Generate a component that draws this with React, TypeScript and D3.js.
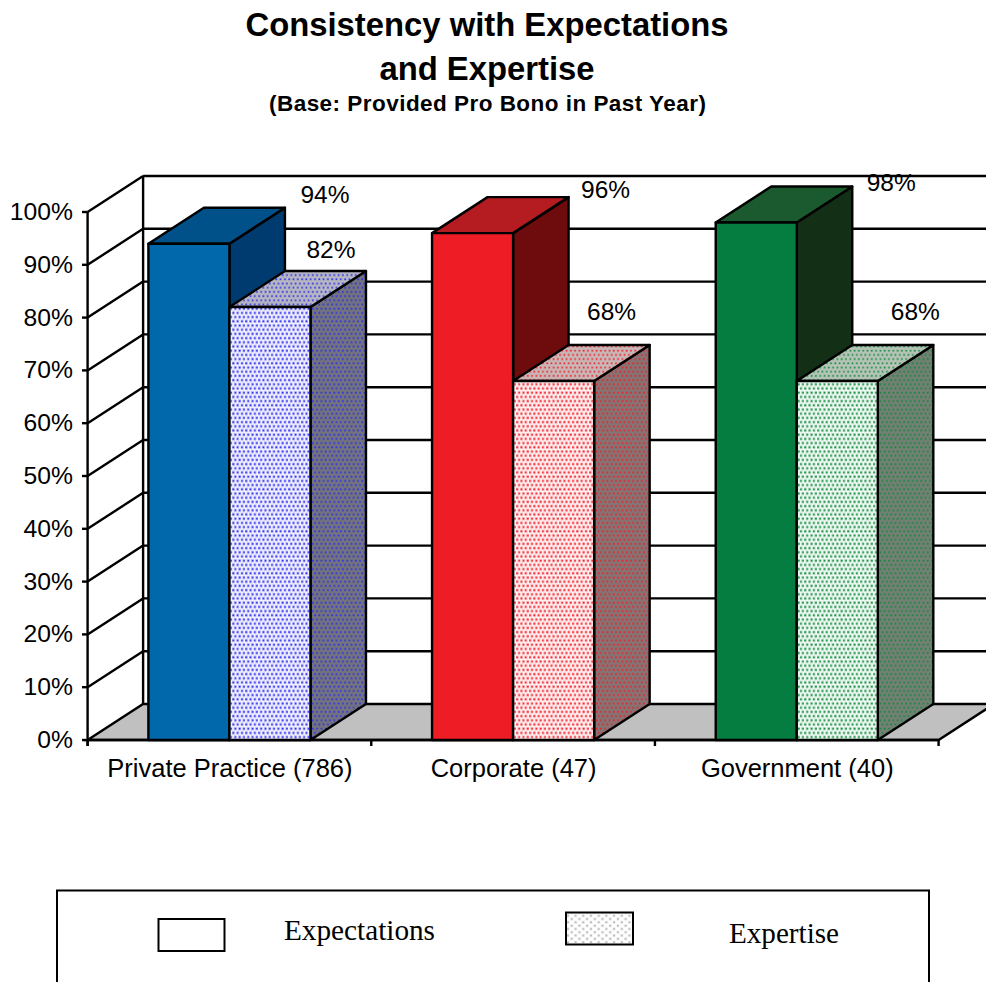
import React from "react";
import * as d3 from "d3";

const categories = ["Private Practice (786)", "Corporate (47)", "Government (40)"];
const seriesNames = ["Expectations", "Expertise"];
const expectations = [94, 96, 98];
const expertise = [82, 68, 68];
const yTicks = [0, 10, 20, 30, 40, 50, 60, 70, 80, 90, 100];

// colours per category: front, top, side, dot
const fronts = ["#0068ab", "#ee1c25", "#067d40"];
const tops = ["#00508a", "#b51c22", "#1b5a2e"];
const sides = ["#003b70", "#6e0b0d", "#132f16"];
const dots = ["#2a2aee", "#f01c28", "#0a8a3c"];
const frontBg = ["#f2f2ff", "#fff2f2", "#f2faf4"];
const dotTopBg = ["#b8b8c0", "#c8b8b8", "#b8c4b8"];
const dotSideBg = ["#74747c", "#847474", "#748074"];

// hand placed data labels in the original, offsets from bar centre / top
const labelDx = [[136, 133, 135], [61, 58, 78]];
const labelDy = [[-41, -35, -32], [-49, -61, -61]];

const W = 986;
const H = 982;
const depthX = 55.5;
const depthY = -36;

const x0 = d3.scaleBand<string>().domain(categories).range([87.6, 938.6]);
const x1 = d3
  .scaleBand<string>()
  .domain(seriesNames)
  .range([0, x0.bandwidth()])
  .paddingInner(0)
  .paddingOuter(0.75);
const y = d3.scaleLinear().domain([0, 100]).range([740, 212]);

const pts = (p: number[][]) => p.map((d) => d.join(",")).join(" ");

const Pattern = ({ id, bg, dot, w = 4.3, h = 8.4, size = 1.6, halo = 0.3 }: { id: string; bg: string; dot: string; w?: number; h?: number; size?: number; halo?: number }) => (
  <pattern id={id} width={w} height={h} patternUnits="userSpaceOnUse">
    <rect width={w} height={h} fill={bg} />
    {[[w * 0.25, h * 0.25], [w * 0.75, h * 0.75]].map(([cx, cy], i) => (
      <g key={i} fill={dot}>
        <rect x={cx - size} y={cy - size} width={size * 2} height={size * 2} opacity={halo} />
        <rect x={cx - size / 2} y={cy - size / 2} width={size} height={size} />
      </g>
    ))}
  </pattern>
);

const Bar = ({ cat, ci, si, value }: { cat: string; ci: number; si: number; value: number }) => {
  const xl = x0(cat)! + x1(seriesNames[si])!;
  const xr = xl + x1.bandwidth();
  const yt = y(value);
  const yb = y(0);
  const front = si === 0 ? fronts[ci] : `url(#front${ci})`;
  const top = si === 0 ? tops[ci] : `url(#top${ci})`;
  const side = si === 0 ? sides[ci] : `url(#side${ci})`;
  return (
    <g stroke="#000" strokeWidth={2.4} strokeLinejoin="round">
      <polygon fill={side} points={pts([[xr, yt], [xr + depthX, yt + depthY], [xr + depthX, yb + depthY], [xr, yb]])} />
      <polygon fill={top} points={pts([[xl, yt], [xl + depthX, yt + depthY], [xr + depthX, yt + depthY], [xr, yt]])} />
      <rect x={xl} y={yt} width={xr - xl} height={yb - yt} fill={front} />
    </g>
  );
};

const App = () => {
  const font = "'Liberation Sans', Arial, sans-serif";
  const serif = "'Liberation Serif', 'Times New Roman', serif";
  const xStart = x0.range()[0];
  const xEnd = x0.range()[1];
  const tickXs = [...categories.map((c) => x0(c)!), xEnd];
  return (
    <svg
      width={W}
      height={H}
      viewBox={`0 0 ${W} ${H}`}
      style={{ position: "absolute", left: 0, top: 0, display: "block", background: "#fff" }}
      fontFamily={font}
    >
      <defs>
        {fronts.map((_, i) => (
          <React.Fragment key={i}>
            <Pattern id={`front${i}`} bg={frontBg[i]} dot={dots[i]} />
            <Pattern id={`top${i}`} bg={dotTopBg[i]} dot={dots[i]} size={1.4} halo={0.2} />
            <Pattern id={`side${i}`} bg={dotSideBg[i]} dot={dots[i]} size={1.4} halo={0.2} />
          </React.Fragment>
        ))}
        <Pattern id="legendDots" bg="#ffffff" dot="#a8a8a8" w={7.7} h={6.6} size={1.5} halo={0.25} />
      </defs>

      <text x={487} y={36} textAnchor="middle" fontSize={32.8} fontWeight="bold">Consistency with Expectations</text>
      <text x={487} y={80} textAnchor="middle" fontSize={32.8} fontWeight="bold">and Expertise</text>
      <text x={487.5} y={111} textAnchor="middle" fontSize={22.5} fontWeight="bold" textLength={437} lengthAdjust="spacing">(Base: Provided Pro Bono in Past Year)</text>

      {/* floor */}
      <polygon
        fill="#c0c0c0"
        stroke="#000"
        strokeWidth={2.4}
        points={pts([[xStart, y(0)], [xStart + depthX, y(0) + depthY], [xEnd + depthX, y(0) + depthY], [xEnd, y(0)]])}
      />

      {/* walls */}
      <g stroke="#000" strokeWidth={2.4} fill="none">
        {yTicks.filter((t) => t > 0).map((t) => (
          <g key={t}>
            <line x1={xStart} y1={y(t)} x2={xStart + depthX} y2={y(t) + depthY} />
            <line x1={xStart + depthX} y1={y(t) + depthY} x2={W} y2={y(t) + depthY} />
          </g>
        ))}
        <line x1={xStart + depthX} y1={y(100) + depthY} x2={xStart + depthX} y2={y(0) + depthY} />
        <line x1={xStart} y1={y(100)} x2={xStart} y2={y(0) + 6} />
        <line x1={xStart} y1={y(0)} x2={xEnd} y2={y(0)} />
        {yTicks.map((t) => (
          <line key={t} x1={82} y1={y(t)} x2={xStart} y2={y(t)} />
        ))}
        {tickXs.map((t) => (
          <line key={t} x1={t} y1={y(0)} x2={t} y2={y(0) + 6} />
        ))}
      </g>

      {yTicks.map((t) => (
        <text key={t} x={73} y={y(t) + 8} textAnchor="end" fontSize={24.7} fill="#000">{t}%</text>
      ))}

      {categories.map((c, i) => (
        <g key={c}>
          <Bar cat={c} ci={i} si={0} value={expectations[i]} />
          <Bar cat={c} ci={i} si={1} value={expertise[i]} />
        </g>
      ))}

      {categories.map((c, i) =>
        [expectations[i], expertise[i]].map((v, si) => (
          <text
            key={si}
            x={x0(c)! + x1(seriesNames[si])! + x1.bandwidth() / 2 + labelDx[si][i]}
            y={y(v) + labelDy[si][i]}
            textAnchor="middle"
            fontSize={24.5}
          >
            {v}%
          </text>
        ))
      )}

      {categories.map((c) => (
        <text key={c} x={x0(c)! + x0.bandwidth() / 2 + 0.5} y={777} textAnchor="middle" fontSize={25.5}>
          {c}
        </text>
      ))}

      {/* legend, cut off by the bottom of the page */}
      <rect x={57} y={890.5} width={872} height={120} fill="#fff" stroke="#000" strokeWidth={2} />
      <rect x={158.5} y={919} width={66} height={32} fill="#fff" stroke="#000" strokeWidth={2} />
      <rect x={566} y={912.5} width={67} height={32} fill="url(#legendDots)" stroke="#000" strokeWidth={2} />
      <text x={284} y={940} fontFamily={serif} fontSize={29} textLength={151} lengthAdjust="spacingAndGlyphs">{seriesNames[0]}</text>
      <text x={729} y={943} fontFamily={serif} fontSize={29} textLength={110} lengthAdjust="spacingAndGlyphs">{seriesNames[1]}</text>
    </svg>
  );
};

export default App;
